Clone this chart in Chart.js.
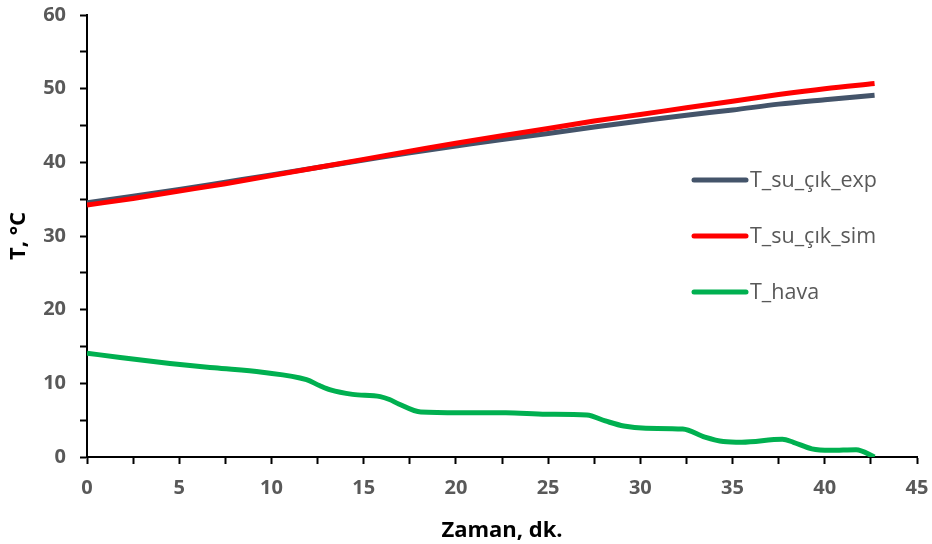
<!DOCTYPE html>
<html>
<head>
<meta charset="utf-8">
<script src="https://cdn.jsdelivr.net/npm/chart.js@4.4.1/dist/chart.umd.min.js"></script>
<style>
	html, body { margin: 0; padding: 0; background: #fff; }
	#wrap { width: 932px; height: 544px; }
</style>
</head>
<body>
<div id="wrap"><canvas id="mycanvas" width="932" height="544"></canvas></div>
<script>
// time axis (minutes) and values
var expX = [0, 2.5, 5, 7.5, 10, 12.5, 15, 17.5, 20, 22.5, 25, 27.5, 30, 32.5, 35, 37.5, 40, 42.7];
var expY = [34.5, 35.4, 36.3, 37.3, 38.3, 39.3, 40.3, 41.3, 42.2, 43.1, 43.9, 44.8, 45.6, 46.4, 47.1, 47.9, 48.5, 49.1];

var simX = [0, 2.5, 5, 7.5, 10, 12.5, 15, 17.5, 20, 22.5, 25, 27.5, 30, 32.5, 35, 37.5, 40, 42.7];
var simY = [34.2, 35.1, 36.1, 37.1, 38.2, 39.3, 40.4, 41.5, 42.6, 43.6, 44.6, 45.6, 46.5, 47.4, 48.3, 49.2, 50.0, 50.7];

var havaX = [0, 1.8, 4.5, 6.9, 9.5, 11.9, 12.6, 13.2, 14.4, 15.9, 16.4, 16.9, 18.1, 20.2, 22.7, 24.9, 27.1, 28.1, 29.1, 30.3, 32.3, 33.5, 34.5, 35.5, 37.7, 38.3, 39.3, 40.3, 41.7, 42.7];
var havaY = [14.1, 13.5, 12.7, 12.1, 11.5, 10.5, 9.7, 9.1, 8.5, 8.2, 7.8, 7.2, 6.1, 6.0, 6.0, 5.8, 5.7, 4.9, 4.2, 3.9, 3.8, 2.7, 2.1, 2.0, 2.4, 2.0, 1.1, 0.9, 1.0, 0];

var seriesNames = ["T_su_çık_exp", "T_su_çık_sim", "T_hava"];
var seriesColors = ["#44546A", "#FF0000", "#00B050"];

function pts(xs, ys) {
	var out = [];
	for (var i in xs) {
		out.push({ x: xs[i], y: ys[i] });
	}
	return out;
}

// legend drawn inside the plot, one entry per line like the original
var sideLegend = {
	id: "sideLegend",
	afterDraw: function(chart) {
		var ctx = chart.ctx;
		var sets = chart.data.datasets;
		ctx.save();
		ctx.font = "21.5px 'Open Sans'";
		ctx.textBaseline = "middle";
		for (var i = 0; i < sets.length; i++) {
			var y = 180 + i * 56;
			ctx.strokeStyle = sets[i].borderColor;
			ctx.lineWidth = 5;
			ctx.lineCap = "round";
			ctx.beginPath();
			ctx.moveTo(694, y);
			ctx.lineTo(746, y);
			ctx.stroke();
			ctx.fillStyle = "#595959";
			ctx.fillText(sets[i].label, 750, y + 1);
		}
		ctx.restore();
	}
};

var chartdata = {
	datasets: [
		{
			label: seriesNames[0],
			data: pts(expX, expY),
			borderColor: seriesColors[0],
			backgroundColor: seriesColors[0],
			borderWidth: 5,
			pointRadius: 0,
			fill: false,
			cubicInterpolationMode: "monotone",
			order: 2
		},
		{
			label: seriesNames[1],
			data: pts(simX, simY),
			borderColor: seriesColors[1],
			backgroundColor: seriesColors[1],
			borderWidth: 5,
			pointRadius: 0,
			fill: false,
			cubicInterpolationMode: "monotone",
			order: 1
		},
		{
			label: seriesNames[2],
			data: pts(havaX, havaY),
			borderColor: seriesColors[2],
			backgroundColor: seriesColors[2],
			borderWidth: 5,
			pointRadius: 0,
			fill: false,
			cubicInterpolationMode: "monotone",
			order: 3
		}
	]
};

var tickFont = { family: "'Open Sans'", size: 20, weight: "bold" };
var titleFont = { family: "'Open Sans'", size: 22, weight: "bold" };

var ctx = document.getElementById("mycanvas");

var LineGraph = new Chart(ctx, {
	type: "line",
	data: chartdata,
	plugins: [sideLegend],
	options: {
		responsive: false,
		animation: false,
		layout: { padding: { top: 15, right: 15, left: 0, bottom: 0 } },
		plugins: {
			legend: { display: false },
			tooltip: { enabled: false }
		},
		scales: {
			x: {
				type: "linear",
				min: 0,
				max: 45,
				ticks: {
					stepSize: 2.5,
					autoSkip: false,
					maxRotation: 0,
					color: "#595959",
					font: tickFont,
					padding: 12,
					callback: function(v) { return v % 5 === 0 ? v : ""; }
				},
				grid: {
					drawOnChartArea: false,
					drawTicks: true,
					tickLength: 7,
					tickColor: "#000",
					tickWidth: 2
				},
				border: { color: "#000", width: 2 },
				title: {
					display: true,
					text: "Zaman, dk.",
					color: "#000",
					font: titleFont,
					padding: { top: 4, bottom: 0 }
				},
				afterFit: function(s) {
					s.height = 87;
					s.paddingLeft = 0;
					s.paddingRight = 0;
				}
			},
			y: {
				min: 0,
				max: 60,
				ticks: {
					stepSize: 5,
					autoSkip: false,
					color: "#595959",
					font: tickFont,
					padding: 14,
					callback: function(v) { return v % 10 === 0 ? v : ""; }
				},
				grid: {
					drawOnChartArea: false,
					drawTicks: true,
					tickLength: 7,
					tickColor: "#000",
					tickWidth: 2
				},
				border: { color: "#000", width: 2 },
				title: {
					display: true,
					text: "T, °C",
					color: "#000",
					font: titleFont,
					padding: { top: 6, bottom: 0 }
				},
				afterFit: function(s) {
					s.width = 87;
					s.paddingTop = 0;
					s.paddingBottom = 0;
				}
			}
		}
	}
});
</script>
</body>
</html>
